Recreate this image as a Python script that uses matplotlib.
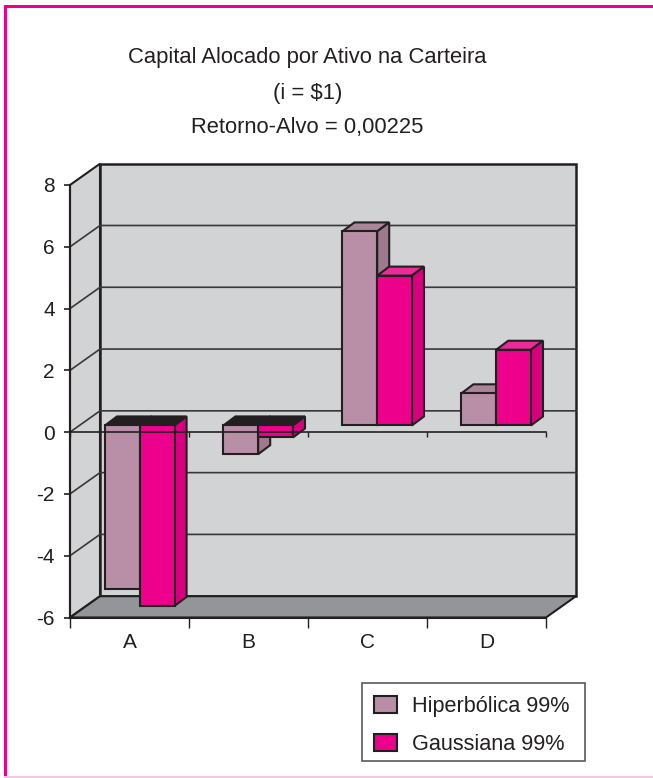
import matplotlib
matplotlib.use('Agg')
import matplotlib.pyplot as plt
from matplotlib.patches import Polygon, Patch, Rectangle

categories = ['A', 'B', 'C', 'D']
hiperbolica = [-5.3, -0.93, 6.28, 1.04]
gaussiana = [-5.84, -0.39, 4.85, 2.45]
series_names = ['Hiperbólica 99%', 'Gaussiana 99%']
y_ticks = [-6, -4, -2, 0, 2, 4, 6, 8]
title_lines = ['Capital Alocado por Ativo na Carteira', '(i = $1)', 'Retorno-Alvo = 0,00225']

WIDTH, HEIGHT = 653, 778
LEFT, RIGHT, TOP, BOTTOM = 70.0, 546.0, 185.0, 617.5
PINK = '#ec008c'
DARK = '#231f20'
WALL = '#d1d3d4'

plt.rcParams['font.family'] = ['Liberation Sans']

fig = plt.figure(figsize=(WIDTH / 100, HEIGHT / 100), dpi=100)
ax = fig.add_axes([LEFT / WIDTH, 1 - BOTTOM / HEIGHT, (RIGHT - LEFT) / WIDTH, (BOTTOM - TOP) / HEIGHT])
ax.set_xlim(0, 4)
ax.set_ylim(-6, 8)
ax.patch.set_alpha(0)

px = 4 / (RIGHT - LEFT)
py = 14 / (BOTTOM - TOP)
wall_dx, wall_dy = 30 * px, 21.3 * py
bar_dx, bar_dy = 10 * px, 6.7 * py
box_dx, box_dy = 12 * px, 9 * py
bar_w = 34.8 * px


def poly(points, color, z, lw=1.5, edge=DARK):
    ax.add_patch(Polygon(points, closed=True, facecolor=color, edgecolor=edge, linewidth=lw,
                         zorder=z, clip_on=False, joinstyle='miter'))


# walls and floor
poly([(0, -6), (wall_dx, -6 + wall_dy), (wall_dx, 8 + wall_dy), (0, 8)], WALL, 1)
poly([(wall_dx, -6 + wall_dy), (4 + wall_dx, -6 + wall_dy), (4 + wall_dx, 8 + wall_dy), (wall_dx, 8 + wall_dy)], WALL, 1, lw=1.8)
poly([(0, -6), (wall_dx, -6 + wall_dy), (4 + wall_dx, -6 + wall_dy), (4, -6)], '#939598', 2)

for t in y_ticks[1:-1]:
    ax.plot([0, wall_dx, 4 + wall_dx], [t, t + wall_dy, t + wall_dy], color='#3a3738', lw=1.2, zorder=3, clip_on=False)


def draw_bar(left, value, front, side, top, z):
    base = bar_dy
    end = value + bar_dy
    high = max(base, end)
    low = min(base, end)
    right = left + bar_w
    # inner top of a negative bar is seen from above, so it goes dark
    poly([(left, high), (left + box_dx, high + box_dy), (right + box_dx, high + box_dy), (right, high)],
         top if value > 0 else DARK, z)
    poly([(right, low), (right + box_dx, low + box_dy), (right + box_dx, high + box_dy), (right, high)], side, z)
    ax.bar(left, high - low, bar_w, bottom=low, align='edge', color=front, edgecolor=DARK,
           linewidth=1.5, zorder=z + 0.1, clip_on=False)


for i in range(len(categories)):
    start = i + 35 * px - (0.6 * px if i else 0)
    draw_bar(start, hiperbolica[i], '#b88fa6', '#9f7a8e', '#ab8599', 5)
    draw_bar(start + bar_w, gaussiana[i], PINK, '#d9007f', '#ec2a9a', 6)

# zero line sits in front of the bars
ax.plot([0, 4], [0, 0], color=DARK, lw=1.2, zorder=8, clip_on=False)
ax.vlines(range(5), -4.5 * py, 0, color=DARK, lw=1.0, zorder=8, clip_on=False)

for side in ['top', 'right']:
    ax.spines[side].set_visible(False)
for side in ['left', 'bottom']:
    ax.spines[side].set_linewidth(1.5)
    ax.spines[side].set_color(DARK)
    ax.spines[side].set_zorder(9)

ax.set_yticks(y_ticks)
ax.set_yticklabels([str(t) for t in y_ticks])
ax.set_xticks(range(5))
ax.set_xticklabels([])
ax.set_xticks([0.5, 1.5, 2.5, 3.5], minor=True)
ax.set_xticklabels(categories, minor=True, fontsize=15)
ax.tick_params(axis='x', which='minor', length=0, pad=11, colors=DARK)
ax.tick_params(axis='x', which='major', length=7, width=1, color=DARK)
ax.tick_params(axis='y', length=4, width=1.2, color=DARK, labelsize=15, labelcolor=DARK, pad=7)

# title
for line, y in zip(title_lines, [58, 93, 127]):
    fig.text(307.5 / WIDTH, 1 - y / HEIGHT, line, ha='center', va='center', fontsize=15.8, color=DARK)

# legend frame is drawn apart so its height does not depend on the text padding
fig.add_artist(Rectangle((362 / WIDTH, 1 - 761 / HEIGHT), 223 / WIDTH, 78 / HEIGHT, transform=fig.transFigure,
                         facecolor='white', edgecolor='#58595b', linewidth=1.2))
handles = [Patch(facecolor='#b88fa6', edgecolor=DARK, linewidth=1.5),
           Patch(facecolor=PINK, edgecolor=DARK, linewidth=1.5)]
fig.legend(handles, series_names, loc='upper left',
           bbox_to_anchor=(374 / WIDTH, 1 - 696 / HEIGHT), fontsize=15.6, labelcolor=DARK,
           frameon=False, borderaxespad=0, borderpad=0,
           handlelength=1.06, handleheight=0.78, handletextpad=0.69, labelspacing=0.78)

# page border
fig.add_artist(Rectangle((4 / WIDTH, 2 / HEIGHT), 3 / WIDTH, 771 / HEIGHT, transform=fig.transFigure, facecolor=PINK, edgecolor='none'))
fig.add_artist(Rectangle((4 / WIDTH, 1 - 7.5 / HEIGHT), 649 / WIDTH, 2.5 / HEIGHT, transform=fig.transFigure, facecolor=PINK, edgecolor='none'))
fig.add_artist(Rectangle((4 / WIDTH, 0), 649 / WIDTH, 2 / HEIGHT, transform=fig.transFigure, facecolor='#f9c5e0', edgecolor='none'))

fig.savefig('out.png', dpi=100)
